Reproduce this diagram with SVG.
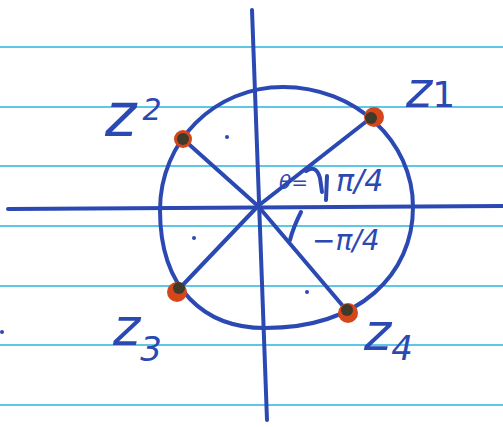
<svg xmlns="http://www.w3.org/2000/svg" width="503" height="427" viewBox="0 0 503 427">
<style>
.rule{stroke:#5ec6e6;stroke-width:2;fill:none}
.ink{stroke:#2b49b3;stroke-width:4;fill:none;stroke-linecap:round;stroke-linejoin:round}
.lbl{font-family:"DejaVu Sans","Liberation Sans",sans-serif;font-style:italic;fill:#2b49b3}
.dot-o{fill:#d6461b}
.dot-i{fill:#3f3b2a}
</style>
<rect width="503" height="427" fill="#ffffff"/>
<g id="paper">
<line class="rule" x1="0" y1="47" x2="503" y2="47"/>
<line class="rule" x1="0" y1="107" x2="503" y2="107"/>
<line class="rule" x1="0" y1="166" x2="503" y2="166"/>
<line class="rule" x1="0" y1="226" x2="503" y2="226"/>
<line class="rule" x1="0" y1="286" x2="503" y2="286"/>
<line class="rule" x1="0" y1="345" x2="503" y2="345"/>
<line class="rule" x1="0" y1="405" x2="503" y2="405"/>
</g>
<g id="axes">
<line class="ink" x1="252" y1="10" x2="267" y2="420"/>
<line class="ink" x1="8" y1="209" x2="503" y2="206"/>
</g>
<g id="circle">
<path class="ink" d="M283 87 C355 87 413 141 413 207 C413 274 360 328 265 328 C205 328 160 290 160 210 C160 141 215 87 283 87 Z"/>
</g>
<g id="connectors">
<line class="ink" x1="258" y1="206" x2="372" y2="117"/>
<line class="ink" x1="258" y1="206" x2="183" y2="139"/>
<line class="ink" x1="258" y1="206" x2="178" y2="290"/>
<line class="ink" x1="258" y1="206" x2="348" y2="312"/>
</g>
<g id="z1">
<circle class="dot-o" cx="374" cy="117" r="10"/>
<circle class="dot-i" cx="371" cy="118" r="6"/>
<text class="lbl" x="406" y="107" font-size="50">z<tspan font-size="36" font-style="normal">1</tspan></text>
</g>
<g id="z2">
<circle class="dot-o" cx="183" cy="139" r="9"/>
<circle class="dot-i" cx="183" cy="139" r="6"/>
<text class="lbl" x="105" y="136" font-size="60">z<tspan font-size="30" dx="6" dy="-16">2</tspan></text>
</g>
<g id="z3">
<circle class="dot-o" cx="177" cy="292" r="10"/>
<circle class="dot-i" cx="179" cy="288" r="6"/>
<text class="lbl" x="113" y="345" font-size="52">z<tspan font-size="34" dy="16">3</tspan></text>
</g>
<g id="z4">
<circle class="dot-o" cx="348" cy="313" r="10"/>
<circle class="dot-i" cx="347" cy="310" r="6"/>
<text class="lbl" x="364" y="350" font-size="52">z<tspan font-size="34" dy="10">4</tspan></text>
</g>
<g id="angles">
<path class="ink" d="M306 171 Q316 164 320 178 L322 192" stroke-width="3"/>
<path class="ink" d="M327 176 L326 200" stroke-width="3.5"/>
<path class="ink" d="M301 212 Q293 228 290 240" stroke-width="3"/>
<text class="lbl" x="279" y="189" font-size="20">θ=</text>
<text class="lbl" x="336" y="191" font-size="30">π/4</text>
<text class="lbl" x="312" y="250" font-size="28">−π/4</text>
</g>
<g id="marks" fill="#2b49b3">
<circle cx="227" cy="137" r="2"/>
<circle cx="194" cy="238" r="2"/>
<circle cx="307" cy="292" r="2"/>
<circle cx="2" cy="332" r="2"/>
</g>
</svg>
